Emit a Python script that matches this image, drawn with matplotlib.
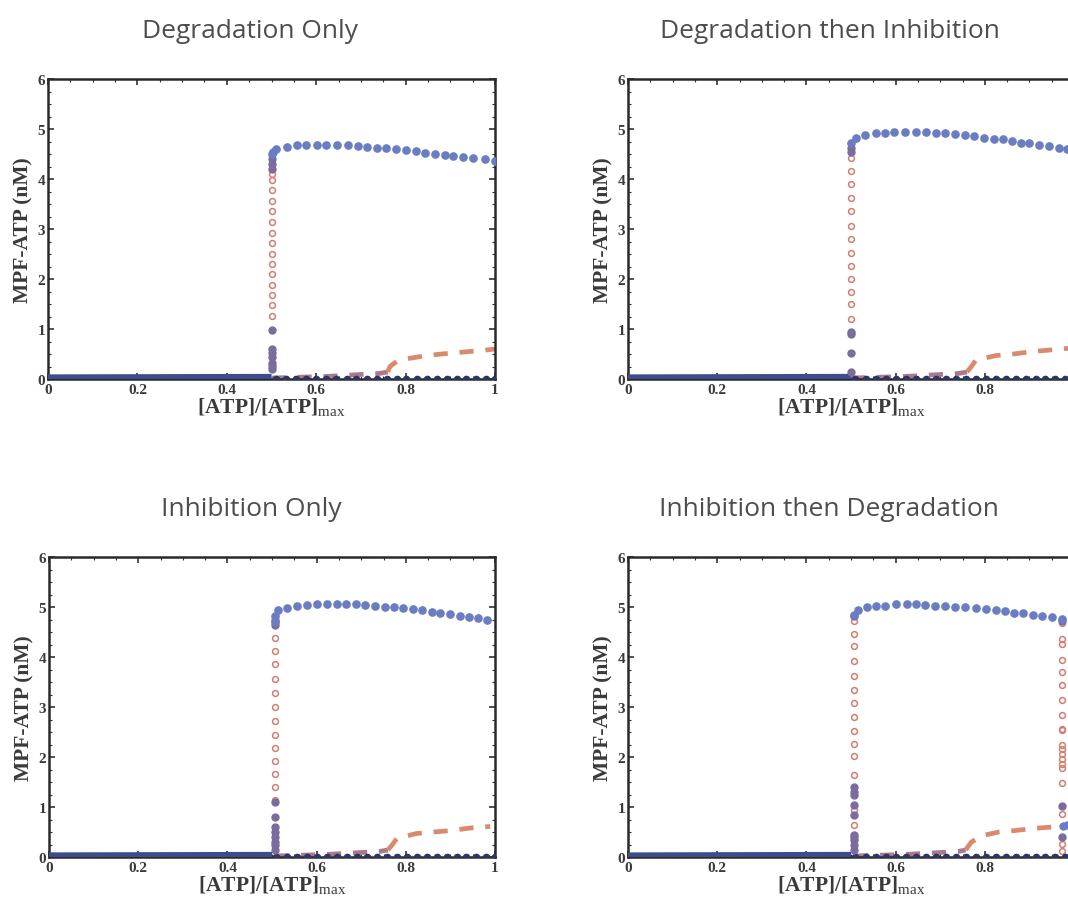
import matplotlib
matplotlib.use("Agg")
import matplotlib.pyplot as plt
from matplotlib.ticker import MultipleLocator

plt.rcParams['mathtext.fontset'] = 'custom'
plt.rcParams['mathtext.rm'] = 'Liberation Serif'

# ---------------- data ----------------
titles = ["Degradation Only", "Degradation then Inhibition",
          "Inhibition Only", "Inhibition then Degradation"]

low_left_x = [0.0, 0.5]
low_left_y = [0.03, 0.04]

low_dots_x = [0.51, 0.533, 0.555, 0.578, 0.60, 0.623, 0.645, 0.668, 0.69, 0.713,
              0.735, 0.758, 0.78, 0.802, 0.825, 0.847, 0.87, 0.892, 0.914, 0.936,
              0.958, 0.979, 1.0]
low_dots_y = [0.01] * len(low_dots_x)

# Degradation Only
tl_up_x = [0.5, 0.503, 0.511, 0.534, 0.556, 0.578, 0.601, 0.623, 0.646, 0.672, 0.694,
           0.713, 0.735, 0.757, 0.778, 0.801, 0.823, 0.843, 0.866, 0.888, 0.907, 0.929,
           0.951, 0.978, 1.0]
tl_up_y = [4.50, 4.55, 4.61, 4.65, 4.68, 4.69, 4.69, 4.69, 4.68, 4.68, 4.67, 4.65, 4.63,
           4.62, 4.60, 4.59, 4.56, 4.53, 4.51, 4.49, 4.47, 4.45, 4.42, 4.40, 4.36]
tl_unst_y = [4.23, 4.10, 3.99, 3.78, 3.57, 3.36, 3.15, 2.93, 2.72, 2.51, 2.30, 2.10,
             1.89, 1.69, 1.49, 1.27]
tl_fstab_y = [4.40, 4.30, 4.21, 0.99, 0.60, 0.53, 0.45, 0.32, 0.27, 0.20]
tl_dash_x = [0.5, 0.54, 0.58, 0.62, 0.66, 0.70, 0.74, 0.76, 0.765, 0.78, 0.80, 0.84,
             0.88, 0.93, 0.97, 1.0]
tl_dash_y = [0.02, 0.03, 0.04, 0.05, 0.07, 0.09, 0.11, 0.14, 0.25, 0.35, 0.40, 0.46,
             0.50, 0.54, 0.57, 0.60]

# Degradation then Inhibition
tr_up_x = [0.5, 0.512, 0.532, 0.555, 0.576, 0.597, 0.622, 0.645, 0.669, 0.69, 0.71,
           0.733, 0.755, 0.776, 0.798, 0.821, 0.84, 0.862, 0.881, 0.9, 0.922, 0.944,
           0.966, 0.985, 1.0]
tr_up_y = [4.73, 4.83, 4.88, 4.92, 4.93, 4.95, 4.95, 4.95, 4.95, 4.93, 4.92, 4.90,
           4.88, 4.87, 4.83, 4.81, 4.80, 4.77, 4.73, 4.72, 4.69, 4.67, 4.63, 4.60, 4.57]
tr_unst_y = [4.43, 4.17, 3.91, 3.63, 3.37, 3.07, 2.80, 2.53, 2.27, 2.01, 1.75, 1.50, 1.20]
tr_fstab_y = [4.62, 4.55, 0.95, 0.90, 0.53, 0.15]
tr_dash_x = [0.5, 0.54, 0.58, 0.62, 0.66, 0.70, 0.74, 0.76, 0.77, 0.78, 0.826, 0.864,
             0.908, 0.946, 0.983, 1.0]
tr_dash_y = [0.02, 0.03, 0.04, 0.05, 0.07, 0.09, 0.11, 0.14, 0.25, 0.38, 0.47, 0.50,
             0.55, 0.58, 0.61, 0.62]

# Inhibition Only
bl_up_x = [0.507, 0.507, 0.514, 0.534, 0.557, 0.578, 0.602, 0.623, 0.645, 0.667, 0.688,
           0.709, 0.732, 0.753, 0.774, 0.794, 0.817, 0.836, 0.858, 0.877, 0.899, 0.922,
           0.942, 0.963, 0.983]
bl_up_y = [4.70, 4.83, 4.95, 4.99, 5.03, 5.05, 5.06, 5.07, 5.06, 5.06, 5.06, 5.05,
           5.03, 5.01, 5.00, 4.98, 4.96, 4.94, 4.91, 4.89, 4.86, 4.83, 4.80, 4.78, 4.75]
bl_unst_y = [4.39, 4.13, 3.86, 3.57, 3.28, 3.00, 2.72, 2.45, 2.18, 1.93, 1.67, 1.40, 1.15]
bl_fstab_y = [4.65, 4.75, 1.10, 0.80, 0.60, 0.50, 0.40, 0.30, 0.25, 0.15]
bl_dash_x = [0.507, 0.54, 0.58, 0.62, 0.66, 0.70, 0.74, 0.76, 0.77, 0.78, 0.824, 0.862,
             0.903, 0.944, 0.989]
bl_dash_y = [0.02, 0.03, 0.04, 0.05, 0.07, 0.09, 0.11, 0.14, 0.25, 0.37, 0.47, 0.50,
             0.53, 0.58, 0.61]

# Inhibition then Degradation
br_up_x = [0.507, 0.516, 0.535, 0.556, 0.577, 0.602, 0.625, 0.645, 0.666, 0.688, 0.71,
           0.734, 0.756, 0.78, 0.802, 0.825, 0.846, 0.866, 0.886, 0.908, 0.929, 0.951,
           0.972]
br_up_y = [4.85, 4.95, 5.00, 5.02, 5.03, 5.06, 5.06, 5.06, 5.05, 5.03, 5.02, 5.01,
           5.00, 4.98, 4.97, 4.95, 4.93, 4.89, 4.88, 4.85, 4.82, 4.80, 4.77]
br_unst_y = [4.73, 4.47, 4.22, 3.93, 3.63, 3.35, 3.08, 2.80, 2.53, 2.27, 2.02, 1.65,
             0.95, 0.65]
br_fstab_y = [4.82, 1.40, 1.30, 1.25, 1.05, 0.85, 0.45, 0.40, 0.35, 0.25, 0.15]
br_unst2_y = [4.68, 4.37, 4.27, 3.95, 3.70, 3.45, 3.14, 2.85, 2.56, 2.54, 2.25, 2.17,
              2.07, 1.97, 1.87, 1.78, 1.49, 0.87, 0.27, 0.13]
br_fstab2_y = [4.72, 1.03, 0.40]
br_after_x = [0.975, 0.985, 1.0]
br_after_y = [0.63, 0.64, 0.65]
br_dash_x = [0.507, 0.54, 0.58, 0.62, 0.66, 0.70, 0.74, 0.757, 0.77, 0.795, 0.832,
             0.869, 0.907, 0.951, 0.972]
br_dash_y = [0.02, 0.03, 0.04, 0.05, 0.07, 0.09, 0.11, 0.14, 0.30, 0.43, 0.50, 0.53,
             0.57, 0.60, 0.63]

xticks = [0, 0.2, 0.4, 0.6, 0.8, 1]
xticklabels = ["0", "0.2", "0.4", "0.6", "0.8", "1"]
yticks = [0, 1, 2, 3, 4, 5, 6]

# ---------------- styles ----------------
BLUE = "#6b7dc2"
PURPLE = "#7a6d9e"
RED = "#d27f70"
NAVY = "#2d3561"
LOWLINE = "#3d4c8e"
DASH_HI = "#da8a6c"
DASH_LO = "#a77a8e"
SERIF = "Liberation Serif"

fig = plt.figure(figsize=(10.68, 9.03), dpi=100)

positions = [
    [48 / 1068, 1 - 380 / 903, 447 / 1068, 300 / 903],
    [628 / 1068, 1 - 380 / 903, 446 / 1068, 300 / 903],
    [49 / 1068, 1 - 858 / 903, 446 / 1068, 300 / 903],
    [628 / 1068, 1 - 858 / 903, 446 / 1068, 300 / 903],
]
title_pos = [(250, 38), (830, 38), (251, 516), (829, 516)]
cut_right = [False, True, False, True]

panels = [
    dict(up_x=tl_up_x, up_y=tl_up_y, folds=[(0.5, tl_unst_y, tl_fstab_y)],
         dash_x=tl_dash_x, dash_y=tl_dash_y),
    dict(up_x=tr_up_x, up_y=tr_up_y, folds=[(0.5, tr_unst_y, tr_fstab_y)],
         dash_x=tr_dash_x, dash_y=tr_dash_y),
    dict(up_x=bl_up_x, up_y=bl_up_y, folds=[(0.507, bl_unst_y, bl_fstab_y)],
         dash_x=bl_dash_x, dash_y=bl_dash_y),
    dict(up_x=br_up_x, up_y=br_up_y,
         folds=[(0.507, br_unst_y, br_fstab_y), (0.972, br_unst2_y, br_fstab2_y)],
         dash_x=br_dash_x, dash_y=br_dash_y, after=(br_after_x, br_after_y)),
]

for i, p in enumerate(panels):
    ax = fig.add_axes(positions[i])
    k = 8
    ax.plot(p['dash_x'][:k], p['dash_y'][:k], ls=(0, (3, 2.5)), lw=3.4,
            color=DASH_LO, zorder=2)
    ax.plot(p['dash_x'][k - 1:], p['dash_y'][k - 1:], ls=(0, (3, 2.5)), lw=3.4,
            color=DASH_HI, zorder=2)
    ax.plot(low_left_x, low_left_y, lw=4.5, color=LOWLINE, solid_capstyle='butt',
            zorder=3)
    lx = [x for x in low_dots_x if x >= p['up_x'][0]]
    ax.plot(lx, low_dots_y[:len(lx)], ls='none', marker='o', ms=4.5,
            color=NAVY, zorder=4)
    for fx, uy, sy in p['folds']:
        ax.plot([fx] * len(uy), uy, ls='none', marker='o', ms=4.2, mfc='none',
                mec=RED, mew=1.1, zorder=3)
        ax.plot([fx] * len(sy), sy, ls='none', marker='o', ms=5, color=PURPLE,
                zorder=4)
    ax.plot(p['up_x'], p['up_y'], ls='none', marker='o', ms=5.2, color=BLUE,
            zorder=5)
    if 'after' in p:
        ax.plot(p['after'][0], p['after'][1], ls='none', marker='o', ms=5,
                color=BLUE, zorder=5)

    ax.set_xlim(0, 1)
    ax.set_ylim(0, 6)
    ax.set_xticks(xticks)
    labs = list(xticklabels)
    if cut_right[i]:
        labs[-1] = ""
    ax.set_xticklabels(labs)
    ax.set_yticks(yticks)
    ax.xaxis.set_minor_locator(MultipleLocator(0.05))
    ax.yaxis.set_minor_locator(MultipleLocator(0.25))
    ax.tick_params(which='both', direction='in', top=True, right=True,
                   color='#333333')
    ax.tick_params(which='major', length=4, width=1.2)
    ax.tick_params(which='minor', length=2, width=0.8)
    ax.tick_params(axis='x', pad=3)
    ax.tick_params(axis='y', pad=2)
    for lab in ax.get_xticklabels() + ax.get_yticklabels():
        lab.set_family(SERIF)
        lab.set_fontweight('bold')
        lab.set_fontsize(11)
        lab.set_color('#3a3a3a')
    for s in ax.spines.values():
        s.set_linewidth(1.8)
        s.set_color('#2a2a2a')
    ax.set_ylabel("MPF-ATP (nM)", family=SERIF, fontweight='bold', fontsize=15.5,
                  color='#3a3a3a', labelpad=3)
    ax.set_xlabel(r"[ATP]/[ATP]$_{\mathrm{max}}$", family=SERIF, fontweight='bold',
                  fontsize=15.5, color='#3a3a3a', labelpad=-0.5)

    tx, ty = title_pos[i]
    fig.text(tx / 1068, 1 - ty / 903, titles[i], ha='center', va='baseline',
             family='Open Sans', fontsize=19, color='#4d4d4d')

fig.savefig("out.png", dpi=100)
